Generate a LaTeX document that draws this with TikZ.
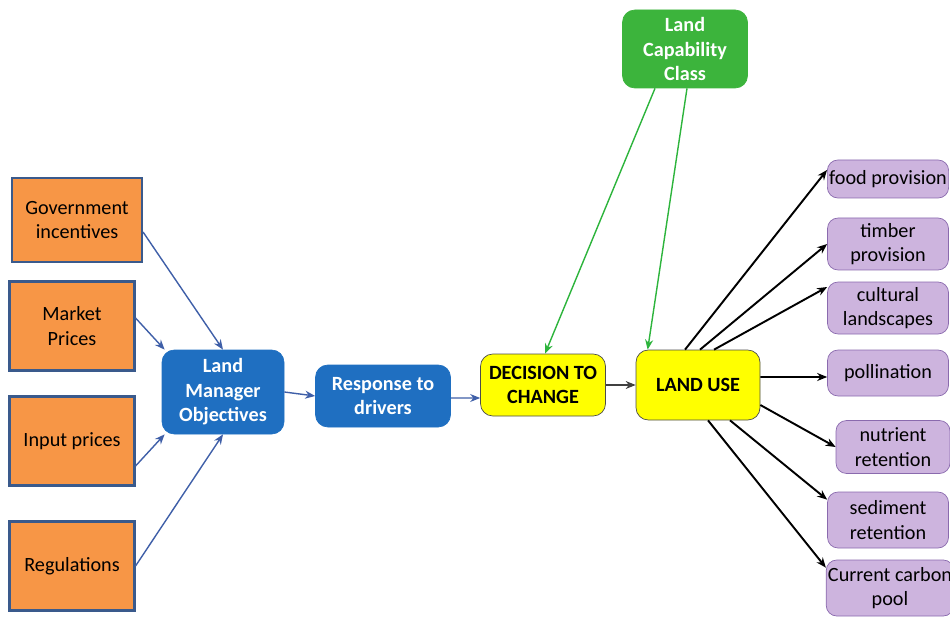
\documentclass[tikz,border=0pt]{standalone}
\usepackage{fontspec}
\setmainfont{Carlito}
\usepackage{xcolor}
\usepackage{tikz}
\usetikzlibrary{
  arrows.meta,
  positioning,
  calc
}
\definecolor{DriverOrange}{HTML}{F79646}
\definecolor{DriverEdge}{HTML}{3A5A8C}
\definecolor{ManagerBlue}{HTML}{1F6FC1}
\definecolor{DecisionYellow}{HTML}{FFFF00}
\definecolor{CapabilityGreen}{HTML}{3CB43C}
\definecolor{ServicePurple}{HTML}{CDB4DE}
\definecolor{ServiceEdge}{HTML}{8A6AAE}
\definecolor{ArrowBlue}{HTML}{3F5FA8}
\definecolor{ArrowGreen}{HTML}{2DB43C}
\tikzset{
  box/.style={
    draw,
    align=center,
    font=\fontsize{11.5}{14}\selectfont
  },
  driver/.style={
    box,
    fill=DriverOrange,
    draw=DriverEdge,
    line width=1.2pt,
    minimum width=2.5cm,
    minimum height=1.78cm
  },
  manager/.style={
    box,
    rounded corners=7pt,
    fill=ManagerBlue,
    draw=ManagerBlue,
    text=white,
    font=\fontsize{11.5}{14}\selectfont\bfseries
  },
  decision/.style={
    box,
    rounded corners=7pt,
    fill=DecisionYellow,
    draw=black!70,
    font=\fontsize{11.5}{14}\selectfont\bfseries
  },
  capability/.style={
    box,
    rounded corners=7pt,
    fill=CapabilityGreen,
    draw=CapabilityGreen,
    text=white,
    font=\fontsize{11.5}{14}\selectfont\bfseries
  },
  service/.style={
    box,
    rounded corners=6pt,
    fill=ServicePurple,
    draw=ServiceEdge,
    minimum width=2.42cm,
    inner sep=1pt
  },
  connection/.style={
    -{Stealth[length=2mm,width=1.6mm]},
    thick,
    draw=ArrowBlue
  },
  constraint/.style={
    -{Stealth[length=2mm,width=1.6mm]},
    thick,
    draw=ArrowGreen
  },
  outcome/.style={
    -{Stealth[length=2mm,width=1.6mm]},
    line width=1.1pt,
    draw=black
  }
}
\begin{document}
\begin{tikzpicture}

  \useasboundingbox (0,0) rectangle (19,12.32);

  % drivers
  \node[driver, minimum width=2.6cm, minimum height=1.68cm] (government) at (1.54,7.92) {Government\\incentives};
  \node[driver] (market) at (1.44,5.80) {Market\\Prices};
  \node[driver] (input) at (1.44,3.50) {Input prices};
  \node[driver] (regulations) at (1.44,1.00) {Regulations};

  % decision chain
  \node[
    manager,
    minimum width=2.44cm,
    minimum height=1.68cm
  ] (objectives) at (4.46,4.48) {Land\\Manager\\Objectives};

  \node[
    manager,
    minimum width=2.7cm,
    minimum height=1.24cm
  ] (response) at (7.66,4.40) {Response to\\drivers};

  \node[
    decision,
    minimum width=2.5cm,
    minimum height=1.24cm
  ] (decision) at (10.86,4.62) {DECISION TO\\CHANGE};

  \node[
    decision,
    minimum width=2.48cm,
    minimum height=1.4cm
  ] (landuse) at (13.96,4.62) {LAND USE};

  \node[
    capability,
    minimum width=2.5cm,
    minimum height=1.56cm
  ] (capability) at (13.70,11.34) {Land\\Capability\\Class};

  % ecosystem services
  \node[service, minimum height=0.76cm] (food) at (17.76,8.74) {food provision};
  \node[service, minimum height=1.04cm] (timber) at (17.76,7.44) {timber\\provision};
  \node[service, minimum height=1.04cm] (cultural) at (17.76,6.16) {cultural\\landscapes};
  \node[service, minimum height=0.92cm] (pollination) at (17.76,4.86) {pollination};
  \node[service, minimum width=2.28cm, minimum height=1.06cm] (nutrient) at (17.86,3.38) {nutrient\\retention};
  \node[service, minimum height=1.12cm] (sediment) at (17.76,1.92) {sediment\\retention};
  \node[service, minimum height=1.12cm] (carbon) at (17.80,0.56) {Current carbon\\pool};

  % drivers to objectives
  \draw[connection] ([yshift=-0.24cm]government.east) -- (objectives.north);
  \draw[connection] ([yshift=0.16cm]market.east) -- ([xshift=0.06cm]objectives.north west);
  \draw[connection] ([yshift=-0.5cm]input.east) -- ([xshift=0.06cm]objectives.south west);
  \draw[connection] (regulations.east) -- (objectives.south);

  % chain
  \draw[connection] (objectives.east) -- (response.west);
  \draw[connection] ([yshift=-0.04cm]response.east) -- ([yshift=-0.26cm]decision.west);
  \draw[outcome, line width=0.6pt, draw=black!75] (decision.east) -- (landuse.west);

  % capability constraints
  \draw[constraint] ([xshift=-0.6cm]capability.south) -- ([xshift=0.04cm]decision.north);
  \draw[constraint] ([xshift=0.04cm]capability.south) -- ([xshift=0.24cm]landuse.north west);

  % land use to services
  \draw[outcome] ([xshift=-0.26cm]landuse.north) -- ([yshift=0.18cm]food.west);
  \draw[outcome] ([xshift=0.04cm]landuse.north) -- (timber.west);
  \draw[outcome] ([xshift=0.32cm]landuse.north) -- ([yshift=0.42cm]cultural.west);
  \draw[outcome] ([yshift=0.16cm]landuse.east) -- ([yshift=-0.08cm]pollination.west);
  \draw[outcome] ([yshift=-0.4cm]landuse.east) -- (nutrient.west);
  \draw[outcome] ([xshift=0.64cm]landuse.south) -- ([yshift=-0.16cm]sediment.north west);
  \draw[outcome] ([xshift=0.2cm]landuse.south) -- ([yshift=-0.16cm]carbon.north west);

\end{tikzpicture}
\end{document}
